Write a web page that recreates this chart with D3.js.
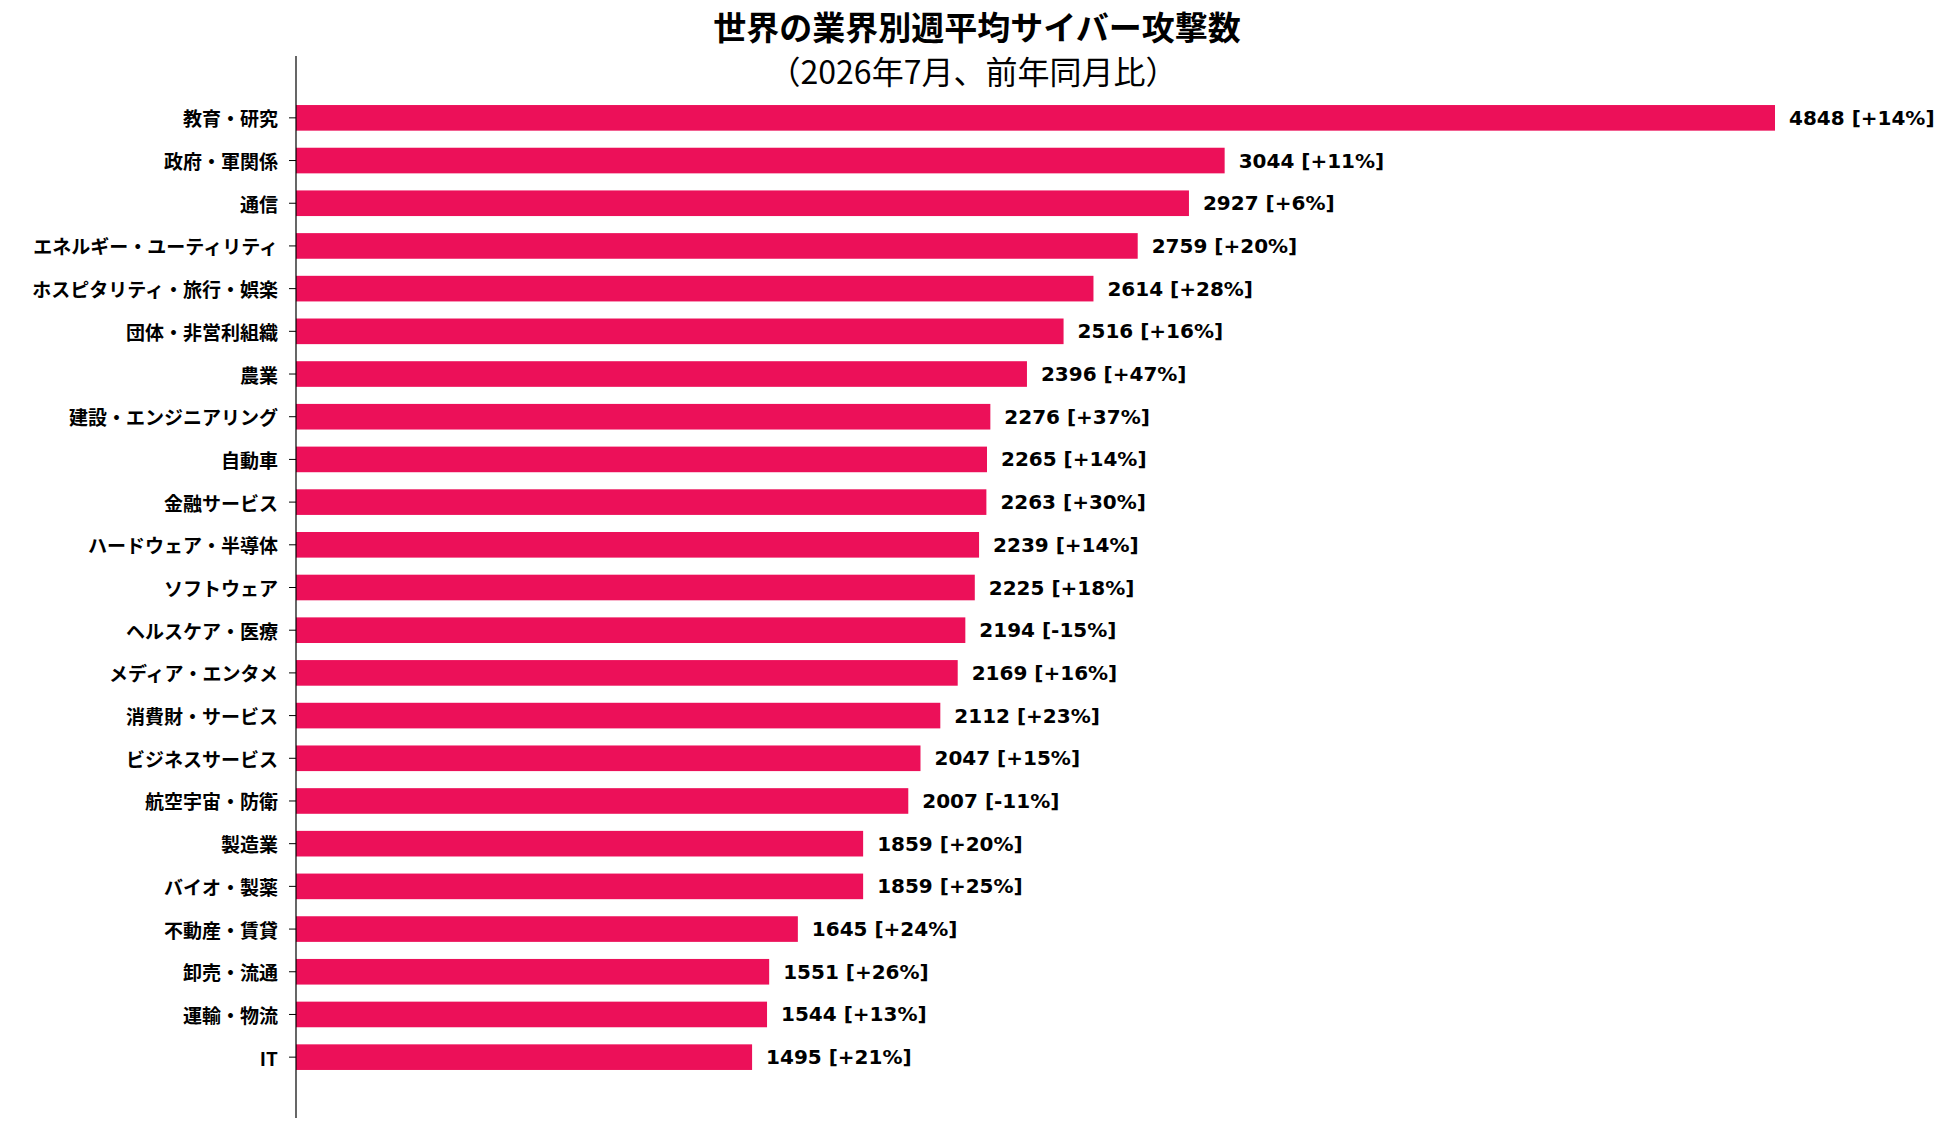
<!DOCTYPE html>
<meta charset="utf-8">
<style>
body { margin: 0; background: #fff; }
.title { font: bold 33px "Noto Sans CJK JP", sans-serif; }
.subtitle { font: 32px "Noto Sans CJK JP", sans-serif; }
.y-axis text { font: bold 19px "Noto Sans CJK JP", sans-serif; fill: #000; }
.y-axis line { stroke: #000; }
.val { font: bold 20px "DejaVu Sans", sans-serif; fill: #000; }
</style>
<svg width="1950" height="1133"></svg>
<script src="https://d3js.org/d3.v7.min.js"></script>
<script>

// industries, top to bottom
var sectors = ["教育・研究", "政府・軍関係", "通信", "エネルギー・ユーティリティ",
  "ホスピタリティ・旅行・娯楽", "団体・非営利組織", "農業", "建設・エンジニアリング",
  "自動車", "金融サービス", "ハードウェア・半導体", "ソフトウェア", "ヘルスケア・医療",
  "メディア・エンタメ", "消費財・サービス", "ビジネスサービス", "航空宇宙・防衛",
  "製造業", "バイオ・製薬", "不動産・賃貸", "卸売・流通", "運輸・物流", "IT"];

// weekly average attacks
var attacks = [4848, 3044, 2927, 2759, 2614, 2516, 2396, 2276, 2265, 2263, 2239,
  2225, 2194, 2169, 2112, 2047, 2007, 1859, 1859, 1645, 1551, 1544, 1495];

// change vs same month last year (%)
var yoy = [14, 11, 6, 20, 28, 16, 47, 37, 14, 30, 14, 18, -15, 16, 23, 15, -11,
  20, 25, 24, 26, 13, 21];

var svg = d3.select("svg");

var rows = sectors.map(function(s, i) {
  return { name: s, value: attacks[i], change: yoy[i] };
});

var x = d3.scaleLinear()
  .domain([0, d3.max(attacks)])
  .range([296, 1775]);

var y = d3.scaleBand()
  .domain(sectors)
  .range([96.5, 1078.5])
  .paddingInner(0.4)
  .paddingOuter(0.2);

// title
svg.append("text")
  .attr("class", "title")
  .attr("x", 977).attr("y", 26)
  .attr("text-anchor", "middle")
  .attr("dominant-baseline", "central")
  .text("世界の業界別週平均サイバー攻撃数");

svg.append("text")
  .attr("class", "subtitle")
  .attr("x", 973).attr("y", 70)
  .attr("text-anchor", "middle")
  .attr("dominant-baseline", "central")
  .text("（2026年7月、前年同月比）");

// bars
svg.append("g")
  .selectAll("rect")
  .data(rows)
  .enter().append("rect")
  .attr("x", x(0))
  .attr("y", function(d) { return y(d.name); })
  .attr("width", function(d) { return x(d.value) - x(0); })
  .attr("height", y.bandwidth())
  .attr("fill", "#ec1059");

// value labels
svg.append("g")
  .selectAll("text")
  .data(rows)
  .enter().append("text")
  .attr("class", "val")
  .attr("x", function(d) { return x(d.value) + 14; })
  .attr("y", function(d) { return y(d.name) + y.bandwidth() / 2; })
  .attr("dominant-baseline", "central")
  .text(function(d) {
    return d.value + " [" + (d.change >= 0 ? "+" : "") + d.change + "%]";
  });

// y axis
var yAxis = svg.append("g")
  .attr("class", "y-axis")
  .attr("transform", "translate(" + x(0) + ",0)")
  .call(d3.axisLeft(y).tickSize(7).tickPadding(11));

yAxis.select(".domain").remove();
yAxis.selectAll("text").attr("dy", null).attr("dominant-baseline", "central");

yAxis.append("line")
  .attr("x1", 0).attr("x2", 0)
  .attr("y1", 56).attr("y2", 1118)
  .attr("stroke", "#000")
  .attr("stroke-width", 1.2);

</script>
